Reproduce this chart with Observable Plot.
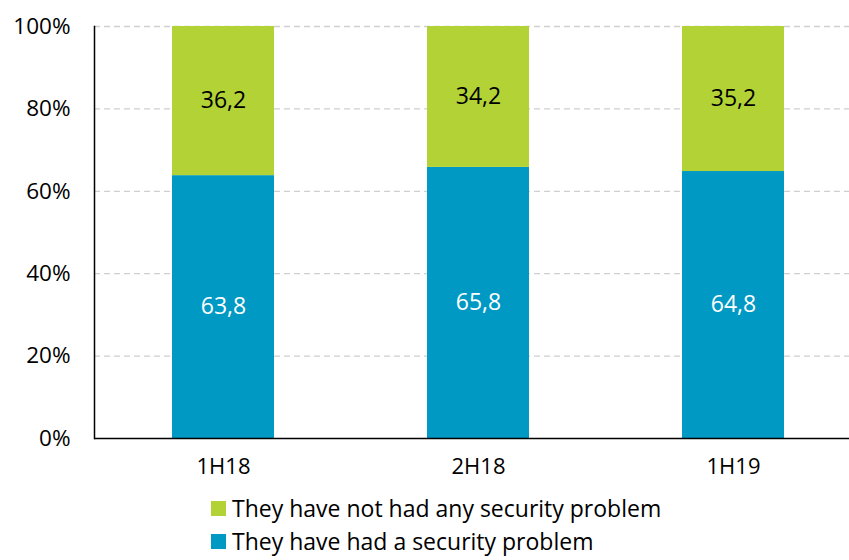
<!DOCTYPE html>
<html>
<head>
<meta charset="utf-8">
<script src="https://cdn.jsdelivr.net/npm/d3@7"></script>
<script src="https://cdn.jsdelivr.net/npm/@observablehq/plot@0.6"></script>
<style>
  body { margin: 0; background: #fff; font-family: "Open Sans", sans-serif; }
  #chart svg { display: block; }
  .legend { margin-left: 211px; font-size: 23px; color: #000; }
  .legend div { height: 33px; line-height: 33px; display: flex; align-items: center; white-space: nowrap; }
  .legend span.sw { width: 15px; height: 15px; display: inline-block; margin-right: 6px; }
</style>
</head>
<body>
<div id="chart"></div>
<div class="legend" id="legend"></div>
<script>
const periods = ["1H18", "2H18", "1H19"];
const hadProblem = [63.8, 65.8, 64.8];
const noProblem = [36.2, 34.2, 35.2];
const seriesNames = ["They have had a security problem", "They have not had any security problem"];
const seriesColors = ["#0099c4", "#b2d235"];
const labelColors = ["#ffffff", "#000000"];
const yTicks = [0, 20, 40, 60, 80, 100];

const data = [];
periods.forEach((p, i) => {
  data.push({period: p, series: seriesNames[0], value: hadProblem[i]});
  data.push({period: p, series: seriesNames[1], value: noProblem[i]});
});

const fmt = v => v.toFixed(1).replace(".", ",");

const plot = Plot.plot({
  width: 849,
  height: 492,
  marginTop: 26,
  marginBottom: 54,
  marginLeft: 94,
  marginRight: 0,
  style: {fontFamily: "Open Sans, sans-serif", fontSize: "22px", color: "#000", background: "#fff"},
  x: {domain: periods, range: [94, 861], paddingInner: 0.6, paddingOuter: 0.3, label: null},
  y: {domain: [0, 100], label: null},
  color: {domain: seriesNames, range: seriesColors},
  marks: [
    Plot.gridY(yTicks.filter(d => d > 0), {stroke: "#d0d0d0", strokeOpacity: 1, strokeDasharray: "6,4", strokeWidth: 1.3}),
    Plot.barY(data, {x: "period", y: "value", fill: "series", order: seriesNames}),
    Plot.text(data, Plot.stackY({x: "period", y: "value", order: seriesNames, z: "series",
      text: d => fmt(d.value), fill: d => labelColors[seriesNames.indexOf(d.series)], fontSize: 23})),
    Plot.axisY({ticks: yTicks, tickFormat: d => d + "%", tickSize: 0, tickPadding: 24, label: null, fontSize: 22.5}),
    Plot.axisX({tickSize: 0, tickPadding: 20, label: null, fontSize: 22}),
    Plot.ruleY([0], {stroke: "#000", strokeWidth: 1.5}),
    Plot.frame({anchor: "left", stroke: "#000", strokeWidth: 1.5})
  ]
});
document.getElementById("chart").appendChild(plot);

const legend = document.getElementById("legend");
[1, 0].forEach(i => {
  const row = document.createElement("div");
  const sw = document.createElement("span");
  sw.className = "sw";
  sw.style.background = seriesColors[i];
  row.appendChild(sw);
  row.appendChild(document.createTextNode(seriesNames[i]));
  legend.appendChild(row);
});
</script>
</body>
</html>
